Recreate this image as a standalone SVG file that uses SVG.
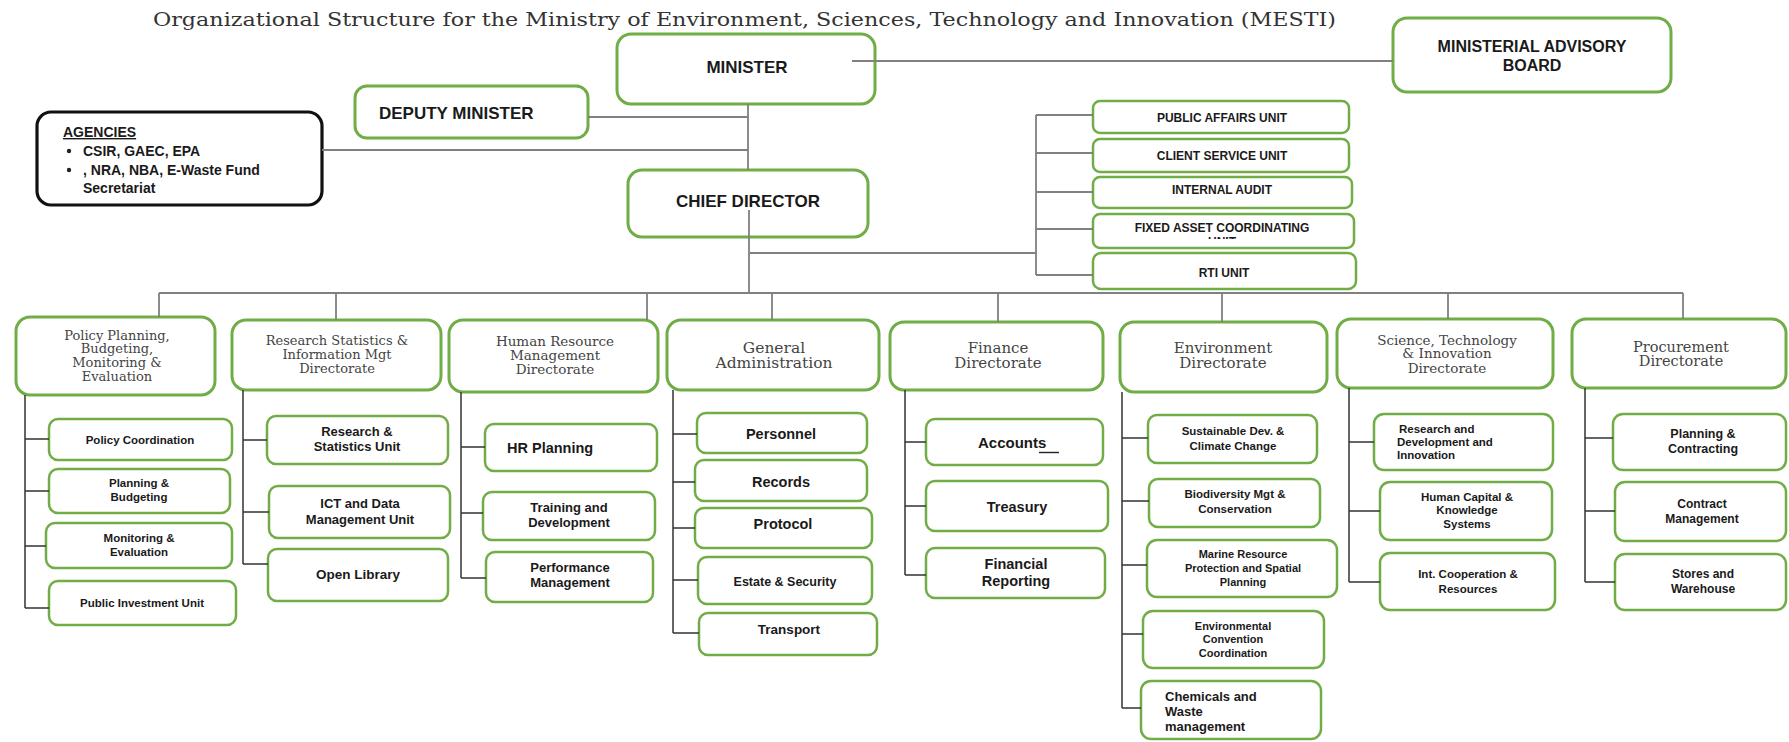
<svg xmlns="http://www.w3.org/2000/svg" width="1789" height="742" viewBox="0 0 1789 742">
<style>
.box{fill:#fff;stroke:#70ad47;stroke-width:3}
.sub{fill:#fff;stroke:#70ad47;stroke-width:2.5}
.blk{fill:#fff;stroke:#111;stroke-width:3.2}
.ln{stroke:#808080;stroke-width:1.8;fill:none}
.ln2{stroke:#333;stroke-width:1.5;fill:none}
.hd{font-family:"DejaVu Serif","Liberation Serif",serif;fill:#444;text-anchor:middle}
.b{font-family:"Liberation Sans",Arial,sans-serif;font-weight:bold;fill:#1a1a1a}
.c{text-anchor:middle}
.title{font-family:"DejaVu Serif","Liberation Serif",serif;fill:#333;font-size:19px}
</style>
<defs>
<clipPath id="fxclip"><rect x="1093" y="214" width="261" height="25"/></clipPath>
</defs>
<rect width="1789" height="742" fill="#fff"/>
<text class="title" x="153" y="26" textLength="1183" lengthAdjust="spacingAndGlyphs">Organizational Structure for the Ministry of Environment, Sciences, Technology and Innovation (MESTI)</text>

<g id="minister"><rect class="box" x="617" y="34" width="258" height="70" rx="14"/><text class="b c" x="747" y="73" font-size="17">MINISTER</text></g>
<g id="advisory-board"><rect class="box" x="1393" y="18" width="278" height="74" rx="14"/><text class="b c" x="1532" y="52" font-size="16">MINISTERIAL ADVISORY</text><text class="b c" x="1532" y="71" font-size="16">BOARD</text></g>
<g id="deputy-minister"><rect class="box" x="355" y="86" width="233" height="52" rx="12"/><text class="b" x="379" y="119" font-size="17">DEPUTY MINISTER</text></g>
<g id="agencies"><rect class="blk" x="37" y="112" width="285" height="93" rx="14"/>
<text class="b" x="63" y="137" font-size="14" text-decoration="underline">AGENCIES</text>
<circle cx="69" cy="151" r="2.2" fill="#222"/><text class="b" x="83" y="156" font-size="14">CSIR, GAEC, EPA</text>
<circle cx="69" cy="170" r="2.2" fill="#222"/><text class="b" x="83" y="175" font-size="14">, NRA, NBA, E-Waste Fund</text>
<text class="b" x="83" y="193" font-size="14">Secretariat</text></g>
<g id="chief-director"><rect class="box" x="628" y="170" width="240" height="67" rx="14"/><text class="b c" x="748" y="207" font-size="17">CHIEF DIRECTOR</text></g>

<g id="public-affairs"><rect class="sub" x="1093" y="101" width="256" height="32" rx="7"/><text class="b c" x="1222" y="122" font-size="12">PUBLIC AFFAIRS UNIT</text></g>
<g id="client-service"><rect class="sub" x="1093" y="139" width="256" height="33" rx="7"/><text class="b c" x="1222" y="160" font-size="12">CLIENT SERVICE UNIT</text></g>
<g id="internal-audit"><rect class="sub" x="1093" y="177" width="259" height="31" rx="7"/><text class="b c" x="1222" y="194" font-size="12">INTERNAL AUDIT</text></g>
<g id="fixed-asset"><rect class="sub" x="1093" y="214" width="261" height="34" rx="7"/><text class="b c" x="1222" y="232" font-size="12">FIXED ASSET COORDINATING</text><text class="b c" x="1222" y="245.5" font-size="12" clip-path="url(#fxclip)">UNIT</text></g>
<g id="rti-unit"><rect class="sub" x="1093" y="253" width="263" height="36" rx="8"/><text class="b c" x="1224" y="277" font-size="12">RTI UNIT</text></g>

<g id="policy-planning"><rect class="box" x="16" y="317" width="199" height="78" rx="14"/>
<text class="hd" font-size="13"><tspan x="117" y="340">Policy Planning,</tspan><tspan x="117" y="353">Budgeting,</tspan><tspan x="117" y="367">Monitoring &amp;</tspan><tspan x="117" y="381">Evaluation</tspan></text></g>
<g id="research-statistics"><rect class="box" x="232" y="320" width="209" height="70" rx="14"/>
<text class="hd" font-size="13"><tspan x="337" y="345">Research Statistics &amp;</tspan><tspan x="337" y="359">Information Mgt</tspan><tspan x="337" y="373">Directorate</tspan></text></g>
<g id="human-resource"><rect class="box" x="449" y="320" width="209" height="72" rx="14"/>
<text class="hd" font-size="13.5"><tspan x="555" y="346">Human Resource</tspan><tspan x="555" y="360">Management</tspan><tspan x="555" y="374">Directorate</tspan></text></g>
<g id="general-administration"><rect class="box" x="667" y="320" width="212" height="70" rx="14"/>
<text class="hd" font-size="15.5"><tspan x="774" y="353">General</tspan><tspan x="774" y="368">Administration</tspan></text></g>
<g id="finance"><rect class="box" x="890" y="322" width="213" height="68" rx="14"/>
<text class="hd" font-size="15"><tspan x="998" y="353">Finance</tspan><tspan x="998" y="368">Directorate</tspan></text></g>
<g id="environment"><rect class="box" x="1120" y="322" width="207" height="70" rx="14"/>
<text class="hd" font-size="15"><tspan x="1223" y="353">Environment</tspan><tspan x="1223" y="368">Directorate</tspan></text></g>
<g id="science-technology"><rect class="box" x="1337" y="319" width="216" height="69" rx="14"/>
<text class="hd" font-size="13.5"><tspan x="1447" y="345">Science, Technology</tspan><tspan x="1447" y="358">&amp; Innovation</tspan><tspan x="1447" y="373">Directorate</tspan></text></g>
<g id="procurement"><rect class="box" x="1572" y="319" width="214" height="69" rx="14"/>
<text class="hd" font-size="14.5"><tspan x="1681" y="352">Procurement</tspan><tspan x="1681" y="366">Directorate</tspan></text></g>

<g id="policy-coordination"><rect class="sub" x="49" y="419" width="183" height="41" rx="9"/><text class="b c" x="140" y="444" font-size="11.5">Policy Coordination</text></g>
<g id="planning-budgeting"><rect class="sub" x="49" y="469" width="181" height="44" rx="9"/><text class="b c" font-size="11.5"><tspan x="139" y="487">Planning &amp;</tspan><tspan x="139" y="501">Budgeting</tspan></text></g>
<g id="monitoring-evaluation"><rect class="sub" x="46" y="523" width="186" height="45" rx="9"/><text class="b c" font-size="11.5"><tspan x="139" y="542">Monitoring &amp;</tspan><tspan x="139" y="556">Evaluation</tspan></text></g>
<g id="public-investment"><rect class="sub" x="49" y="581" width="187" height="44" rx="9"/><text class="b c" x="142" y="607" font-size="11.5">Public Investment Unit</text></g>

<g id="research-statistics-unit"><rect class="sub" x="267" y="416" width="181" height="48" rx="9"/><text class="b c" font-size="13"><tspan x="357" y="436">Research &amp;</tspan><tspan x="357" y="451">Statistics Unit</tspan></text></g>
<g id="ict-data"><rect class="sub" x="269" y="486" width="181" height="52" rx="9"/><text class="b c" font-size="13"><tspan x="360" y="508">ICT and Data</tspan><tspan x="360" y="524">Management Unit</tspan></text></g>
<g id="open-library"><rect class="sub" x="268" y="549" width="180" height="52" rx="9"/><text class="b c" x="358" y="579" font-size="13.5">Open Library</text></g>

<g id="hr-planning"><rect class="sub" x="485" y="424" width="172" height="47" rx="9"/><text class="b" x="507" y="453" font-size="14.5">HR Planning</text></g>
<g id="training-development"><rect class="sub" x="483" y="492" width="172" height="48" rx="9"/><text class="b c" font-size="13"><tspan x="569" y="512">Training and</tspan><tspan x="569" y="527">Development</tspan></text></g>
<g id="performance-management"><rect class="sub" x="486" y="552" width="167" height="50" rx="9"/><text class="b c" font-size="13"><tspan x="570" y="572">Performance</tspan><tspan x="570" y="587">Management</tspan></text></g>

<g id="personnel"><rect class="sub" x="697" y="413" width="170" height="40" rx="9"/><text class="b c" x="781" y="439" font-size="14.5">Personnel</text></g>
<g id="records"><rect class="sub" x="695" y="460" width="172" height="41" rx="9"/><text class="b c" x="781" y="487" font-size="14.5">Records</text></g>
<g id="protocol"><rect class="sub" x="695" y="508" width="177" height="40" rx="9"/><text class="b c" x="783" y="529" font-size="14.5">Protocol</text></g>
<g id="estate-security"><rect class="sub" x="698" y="557" width="174" height="47" rx="9"/><text class="b c" x="785" y="586" font-size="12.5">Estate &amp; Security</text></g>
<g id="transport"><rect class="sub" x="699" y="613" width="178" height="42" rx="9"/><text class="b c" x="789" y="634" font-size="13.5">Transport</text></g>

<g id="accounts"><rect class="sub" x="926" y="419" width="177" height="46" rx="9"/><text class="b" x="978" y="448" font-size="15">Accounts</text><line x1="1039" y1="452.5" x2="1059" y2="452.5" stroke="#222" stroke-width="1.4"/></g>
<g id="treasury"><rect class="sub" x="926" y="481" width="182" height="50" rx="9"/><text class="b c" x="1017" y="512" font-size="14.5">Treasury</text></g>
<g id="financial-reporting"><rect class="sub" x="926" y="548" width="179" height="50" rx="9"/><text class="b c" font-size="14.5"><tspan x="1016" y="569">Financial</tspan><tspan x="1016" y="586">Reporting</tspan></text></g>

<g id="sustainable-dev"><rect class="sub" x="1148" y="415" width="169" height="48" rx="9"/><text class="b c" font-size="11.5"><tspan x="1233" y="435">Sustainable Dev. &amp;</tspan><tspan x="1233" y="450">Climate Change</tspan></text></g>
<g id="biodiversity"><rect class="sub" x="1149" y="479" width="171" height="48" rx="9"/><text class="b c" font-size="11.5"><tspan x="1235" y="498">Biodiversity Mgt &amp;</tspan><tspan x="1235" y="513">Conservation</tspan></text></g>
<g id="marine-resource"><rect class="sub" x="1147" y="540" width="190" height="57" rx="10"/><text class="b c" font-size="11"><tspan x="1243" y="558">Marine Resource</tspan><tspan x="1243" y="572">Protection and Spatial</tspan><tspan x="1243" y="586">Planning</tspan></text></g>
<g id="environmental-convention"><rect class="sub" x="1143" y="611" width="181" height="57" rx="10"/><text class="b c" font-size="11"><tspan x="1233" y="630">Environmental</tspan><tspan x="1233" y="643">Convention</tspan><tspan x="1233" y="657">Coordination</tspan></text></g>
<g id="chemicals-waste"><rect class="sub" x="1141" y="681" width="180" height="58" rx="10"/><text class="b" font-size="13"><tspan x="1165" y="701">Chemicals and</tspan><tspan x="1165" y="716">Waste</tspan><tspan x="1165" y="731">management</tspan></text></g>

<g id="research-development"><rect class="sub" x="1374" y="414" width="179" height="56" rx="10"/><text class="b" font-size="11.5"><tspan x="1399" y="433">Research and</tspan><tspan x="1397" y="446">Development and</tspan><tspan x="1397" y="459">Innovation</tspan></text></g>
<g id="human-capital"><rect class="sub" x="1380" y="482" width="172" height="58" rx="10"/><text class="b c" font-size="11.5"><tspan x="1467" y="501">Human Capital &amp;</tspan><tspan x="1467" y="514">Knowledge</tspan><tspan x="1467" y="528">Systems</tspan></text></g>
<g id="int-cooperation"><rect class="sub" x="1380" y="553" width="175" height="57" rx="10"/><text class="b c" font-size="11.5"><tspan x="1468" y="578">Int. Cooperation &amp;</tspan><tspan x="1468" y="593">Resources</tspan></text></g>

<g id="planning-contracting"><rect class="sub" x="1613" y="414" width="173" height="56" rx="10"/><text class="b c" font-size="12.5"><tspan x="1703" y="438">Planning &amp;</tspan><tspan x="1703" y="453">Contracting</tspan></text></g>
<g id="contract-management"><rect class="sub" x="1615" y="482" width="171" height="59" rx="10"/><text class="b c" font-size="12"><tspan x="1702" y="508">Contract</tspan><tspan x="1702" y="523">Management</tspan></text></g>
<g id="stores-warehouse"><rect class="sub" x="1615" y="554" width="171" height="56" rx="10"/><text class="b c" font-size="12"><tspan x="1703" y="578">Stores and</tspan><tspan x="1703" y="593">Warehouse</tspan></text></g>

<g id="connectors">
<path class="ln" d="M852,61H1393 M748,104V170 M588,117H748 M322,150H748 M749,210V293 M750,253H1036 M1036,115V275 M1036,115H1093 M1036,153H1093 M1036,192H1093 M1036,229H1093 M1036,275H1093"/>
<path class="ln" d="M159,293H1683 M159,293V317 M336,293V320 M647,293V320 M772,293V320 M998,293V322 M1222,293V322 M1448,293V319 M1683,293V319"/>
<path class="ln2" d="M25,395V608 M25,439H49 M25,491H49 M25,546H46 M25,608H49"/>
<path class="ln2" d="M243,390V564 M243,440H267 M243,512H269 M243,564H268"/>
<path class="ln2" d="M461,392V578 M461,447H485 M461,513H483 M461,578H486"/>
<path class="ln2" d="M673,390V633 M673,434H697 M673,482H695 M673,528H695 M673,580H698 M673,633H699"/>
<path class="ln2" d="M905,390V575 M905,442H926 M905,506H926 M905,575H926"/>
<path class="ln2" d="M1122,392V708 M1122,438H1148 M1122,501H1149 M1122,565H1147 M1122,634H1143 M1122,708H1141"/>
<path class="ln2" d="M1349,388V582 M1349,442H1374 M1349,511H1380 M1349,582H1380"/>
<path class="ln2" d="M1585,388V582 M1585,438H1613 M1585,511H1615 M1585,582H1615"/>
</g>
</svg>
